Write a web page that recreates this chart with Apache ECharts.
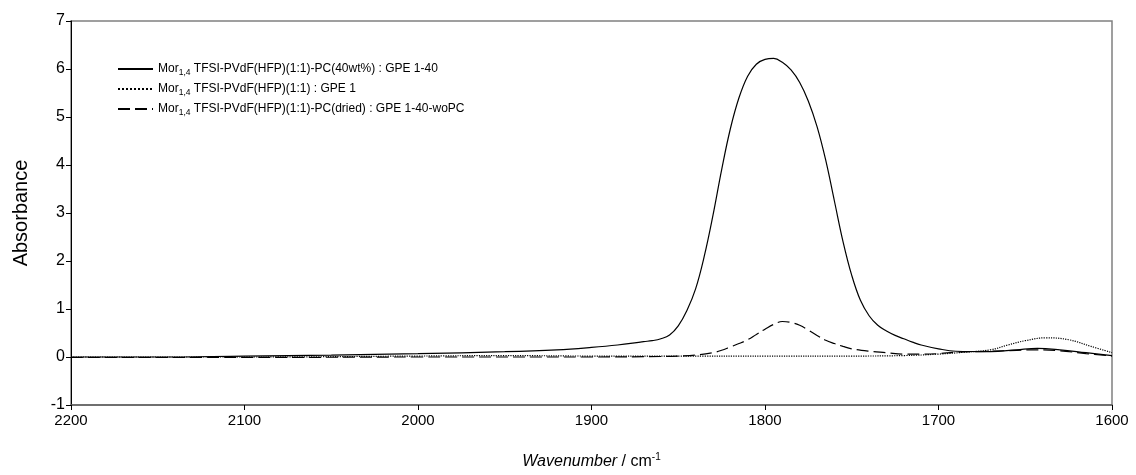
<!DOCTYPE html>
<html><head><meta charset="utf-8">
<script src="https://cdn.jsdelivr.net/npm/echarts@6/dist/echarts.min.js"></script>
<style>html,body{margin:0;padding:0;background:#fff}#c{width:1136px;height:475px}</style>
</head><body><div id="c"></div>
<script>
var seriesNames = [
  'Mor|1,4| TFSI-PVdF(HFP)(1:1)-PC(40wt%) : GPE 1-40',
  'Mor|1,4| TFSI-PVdF(HFP)(1:1) : GPE 1',
  'Mor|1,4| TFSI-PVdF(HFP)(1:1)-PC(dried) : GPE 1-40-woPC'
];
var xTicks = [2200, 2100, 2000, 1900, 1800, 1700, 1600];
var yTicks = [-1, 0, 1, 2, 3, 4, 5, 6, 7];

var wnSolid = [2200,2150,2100,2050,2000,1950,1920,1900,1885,1870,1865,1860,1855,1850,1845,1840,1835,1830,1825,1820,1815,1810,1805,1800,1795,1790,1785,1780,1775,1770,1765,1760,1755,1750,1745,1740,1735,1730,1725,1720,1715,1710,1700,1690,1670,1655,1643,1630,1615,1600];
var absSolid = [0.00,0.00,0.02,0.04,0.07,0.11,0.15,0.20,0.25,0.32,0.34,0.38,0.46,0.65,0.97,1.42,2.10,2.95,3.90,4.75,5.40,5.85,6.10,6.20,6.22,6.14,5.98,5.72,5.33,4.80,4.10,3.25,2.40,1.70,1.18,0.86,0.66,0.54,0.45,0.38,0.31,0.25,0.17,0.12,0.11,0.15,0.18,0.15,0.09,0.03];

var wnDotted = [2200,2100,2000,1950,1900,1850,1800,1750,1720,1700,1685,1670,1660,1650,1638,1625,1612,1600];
var absDotted = [0.00,0.00,0.02,0.03,0.02,0.02,0.02,0.02,0.03,0.06,0.10,0.15,0.25,0.34,0.40,0.36,0.22,0.09];

var wnDashed = [2200,2100,2000,1900,1860,1850,1840,1830,1825,1820,1815,1810,1805,1800,1795,1790,1785,1780,1775,1770,1765,1760,1755,1750,1740,1730,1720,1710,1700,1690,1670,1655,1643,1630,1615,1600];
var absDashed = [-0.01,-0.01,0.00,0.00,0.01,0.02,0.04,0.09,0.14,0.21,0.28,0.36,0.47,0.58,0.68,0.74,0.72,0.66,0.56,0.45,0.35,0.28,0.22,0.17,0.12,0.09,0.06,0.06,0.07,0.10,0.12,0.14,0.15,0.13,0.07,0.02];

function pairs(xs, ys){ return xs.map(function(x,i){ return [x, ys[i]]; }); }
function legendName(n){ return n.replace(/\|/g,''); }

var chart = echarts.init(document.getElementById('c'));
var font = 'Liberation Sans, Arial, sans-serif';
var styles = [
  {type:'solid', width:1.2},
  {type:'dotted', width:1.2},
  {type:[12,5], width:1.2}
];
var datas = [pairs(wnSolid,absSolid), pairs(wnDotted,absDotted), pairs(wnDashed,absDashed)];

chart.setOption({
  animation:false,
  backgroundColor:'#fff',
  grid:{left:71, right:24, top:21, bottom:66, show:true, borderColor:'#808080', borderWidth:1.5, backgroundColor:'transparent'},
  legend:{
    left:112, top:58, orient:'vertical', itemWidth:35, itemHeight:12, itemGap:6,
    itemStyle:{opacity:0},
    data: seriesNames.map(function(n){ return {name: legendName(n)}; }),
    formatter:function(name){
      var idx = seriesNames.map(legendName).indexOf(name);
      var p = seriesNames[idx].split('|');
      return '{n|' + p[0] + '}{s|' + p[1] + '}{n|' + p[2] + '}';
    },
    textStyle:{ fontFamily:font, color:'#000',
      rich:{ n:{fontSize:12, fontFamily:font, color:'#000'}, s:{fontSize:8.5, fontFamily:font, color:'#000', padding:[7,0,0,0]} } }
  },
  xAxis:{
    type:'value', min:1600, max:2200, interval:100, inverse:true,
    axisLine:{show:true, onZero:false, lineStyle:{color:'#606060', width:1.5}},
    axisTick:{show:true, inside:false, length:5, lineStyle:{color:'#000'}},
    axisLabel:{ fontSize:15, color:'#000', fontFamily:font, margin:8,
      formatter:function(v){ return xTicks.indexOf(v)>=0 ? String(v) : ''; } },
    splitLine:{show:false},
    name:'{i|Wavenumber}{n| / cm}{s|-1}', nameLocation:'middle', nameGap:47,
    nameTextStyle:{ rich:{ i:{fontSize:16, fontStyle:'italic', fontFamily:font, color:'#000'}, n:{fontSize:16, fontFamily:font, color:'#000'}, s:{fontSize:10, fontFamily:font, color:'#000', padding:[0,0,10,0]} } }
  },
  yAxis:{
    type:'value', min:-1, max:7, interval:1,
    axisLine:{show:true, onZero:false, lineStyle:{color:'#000', width:1}},
    axisTick:{show:true, inside:false, length:5, lineStyle:{color:'#000'}},
    axisLabel:{ fontSize:16, color:'#000', fontFamily:font, margin:6,
      formatter:function(v){ return yTicks.indexOf(v)>=0 ? String(v) : ''; } },
    splitLine:{show:false},
    name:'Absorbance', nameLocation:'middle', nameGap:40,
    nameTextStyle:{fontSize:20, fontFamily:font, color:'#000'}
  },
  series: datas.map(function(d,i){
    return { name: legendName(seriesNames[i]), type:'line', data:d, smooth:0.4, symbol:'none',
      lineStyle:{color:'#000', type:styles[i].type, width:styles[i].width}, itemStyle:{color:'#000'} };
  })
});
</script></body></html>
